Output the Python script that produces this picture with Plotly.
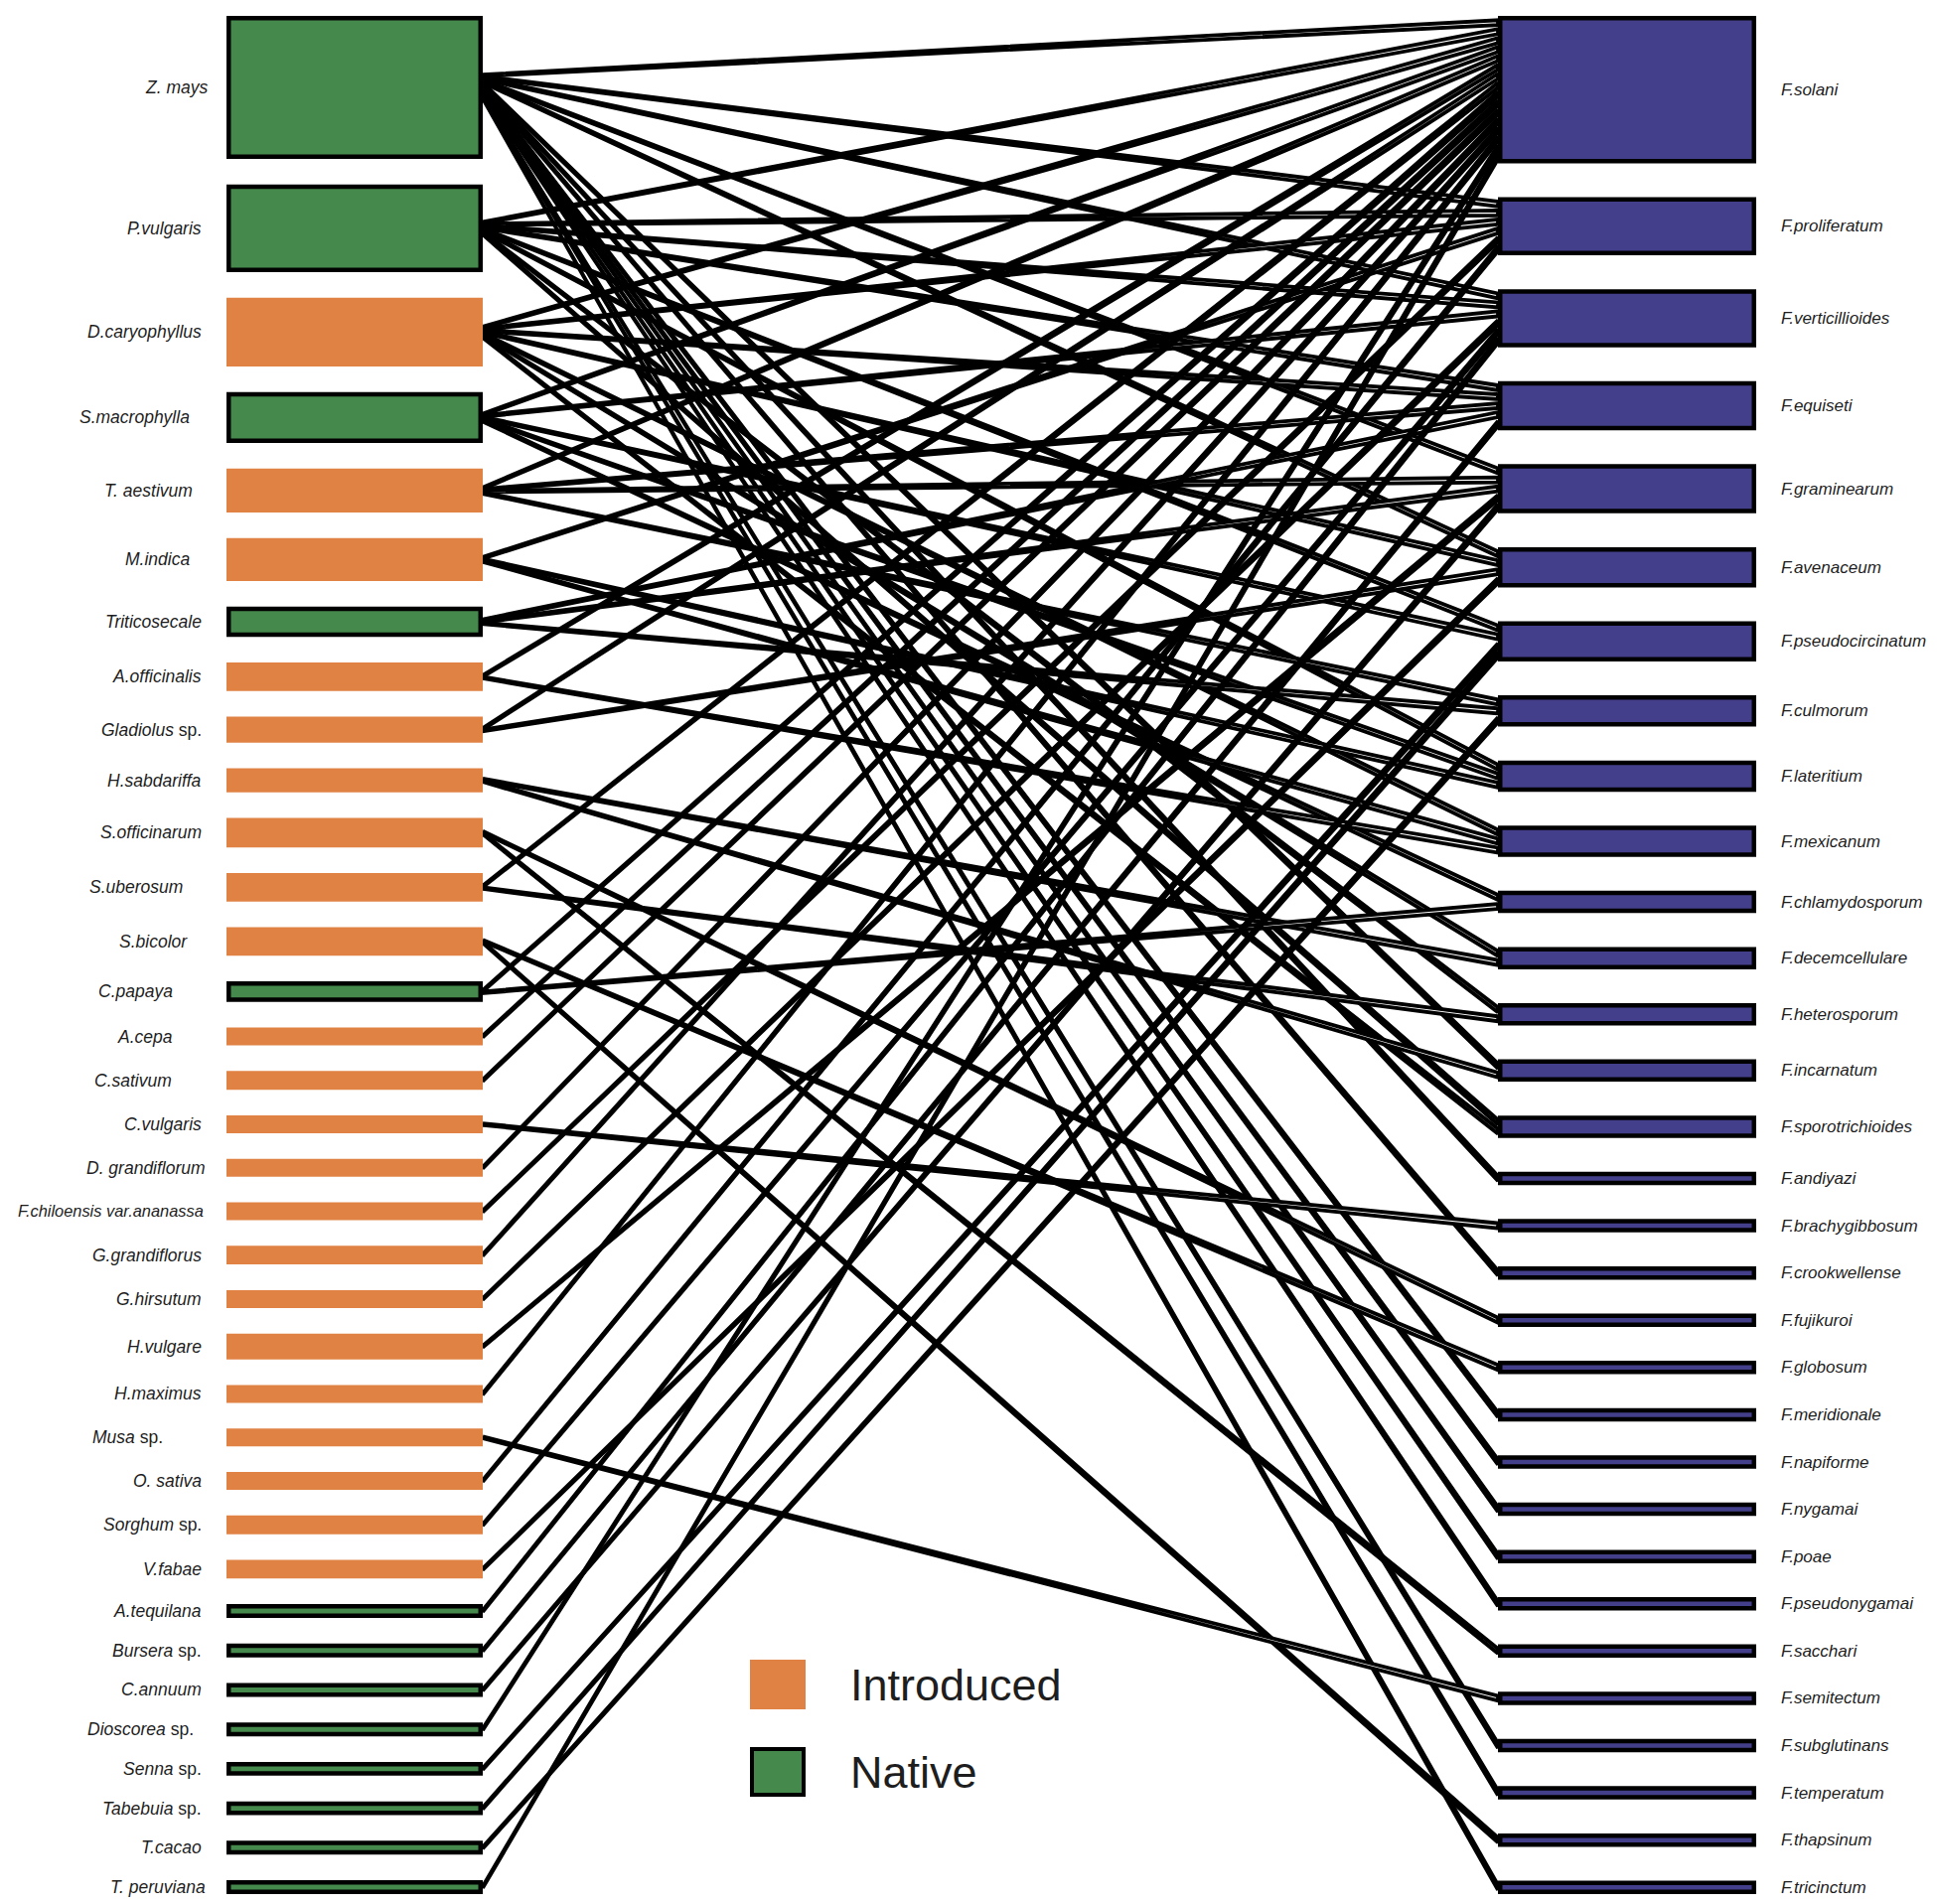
import plotly.graph_objects as go

# ---------------- data ----------------
plants = ["Z. mays", "P.vulgaris", "D.caryophyllus", "S.macrophylla", "T. aestivum",
          "M.indica", "Triticosecale", "A.officinalis", "Gladiolus| sp.", "H.sabdariffa",
          "S.officinarum", "S.uberosum", "S.bicolor", "C.papaya", "A.cepa",
          "C.sativum", "C.vulgaris", "D. grandiflorum", "F.chiloensis var.ananassa", "G.grandiflorus",
          "G.hirsutum", "H.vulgare", "H.maximus", "Musa| sp.", "O. sativa",
          "Sorghum| sp.", "V.fabae", "A.tequilana", "Bursera| sp.", "C.annuum",
          "Dioscorea| sp.", "Senna| sp.", "Tabebuia| sp.", "T.cacao", "T. peruviana"]

plant_status = ["Native", "Native", "Introduced", "Native", "Introduced",
                "Introduced", "Native", "Introduced", "Introduced", "Introduced",
                "Introduced", "Introduced", "Introduced", "Native", "Introduced",
                "Introduced", "Introduced", "Introduced", "Introduced", "Introduced",
                "Introduced", "Introduced", "Introduced", "Introduced", "Introduced",
                "Introduced", "Introduced", "Native", "Native", "Native",
                "Native", "Native", "Native", "Native", "Native"]

# relative box size of each host
plant_size = [16.0, 9.8, 7.7, 5.7, 4.9,
              4.8, 3.4, 3.2, 2.9, 2.7,
              3.3, 3.2, 3.2, 2.3, 2.0,
              2.1, 2.0, 2.0, 2.0, 2.1,
              2.0, 2.9, 2.0, 2.0, 2.0,
              2.1, 2.1, 1.55, 1.55, 1.55,
              1.55, 1.55, 1.55, 1.55, 1.55]

fungi = ["F.solani", "F.proliferatum", "F.verticillioides", "F.equiseti", "F.graminearum",
         "F.avenaceum", "F.pseudocircinatum", "F.culmorum", "F.lateritium", "F.mexicanum",
         "F.chlamydosporum", "F.decemcellulare", "F.heterosporum", "F.incarnatum", "F.sporotrichioides",
         "F.andiyazi", "F.brachygibbosum", "F.crookwellense", "F.fujikuroi", "F.globosum",
         "F.meridionale", "F.napiforme", "F.nygamai", "F.poae", "F.pseudonygamai",
         "F.sacchari", "F.semitectum", "F.subglutinans", "F.temperatum", "F.thapsinum",
         "F.tricinctum"]

# interactions: for each host (same order as plants), indices into fungi
plant_links = [
    [0, 1, 2, 4, 5, 13, 15, 17, 20, 21, 22, 23, 24, 27, 28, 30],  # Z. mays
    [0, 1, 2, 3, 6, 8, 12, 14],                                    # P.vulgaris
    [0, 1, 3, 5, 9, 11, 14],                                       # D.caryophyllus
    [0, 2, 6, 8, 10],                                              # S.macrophylla
    [0, 3, 4, 7],                                                  # T. aestivum
    [1, 8, 9],                                                     # M.indica
    [3, 4, 7],                                                     # Triticosecale
    [0, 9],                                                        # A.officinalis
    [0, 5],                                                        # Gladiolus sp.
    [11, 13],                                                      # H.sabdariffa
    [18, 25],                                                      # S.officinarum
    [0, 12],                                                       # S.uberosum
    [19, 29],                                                      # S.bicolor
    [0, 10],                                                       # C.papaya
    [0], [0], [16], [0], [1], [0], [2], [4], [0], [26], [1], [2], [5],
    [2], [3], [4], [0], [6], [6], [7], [0],
]

legend_items = ["Introduced", "Native"]

# ---------------- styling / layout constants ----------------
W, H = 1950, 1917
PAGE_MARGIN = 8          # default body margin of the html page
TOP, BOTTOM = 16, 1907
UNIT = 9.0
LX0, LX1 = 228, 486
RX0, RX1 = 1508, 1768
BORDER = 4.5
LEFT_LINK_W = 1.6
RIGHT_LINK_W = 5.0
LINK_LINE = 3.8
COL = {"Introduced": "#E08244", "Native": "#46894C"}
FUNGUS_COL = "#443F8A"
FONT = "Liberation Sans, Arial, sans-serif"
LEFT_LABEL_X = 205
LEFT_FONT = 17.5
LABEL_X_TWEAK = {"Z. mays": 211, "S.macrophylla": 193, "T. aestivum": 196, "M.indica": 193,
                 "S.uberosum": 186, "S.bicolor": 191, "C.papaya": 176, "A.cepa": 176,
                 "C.sativum": 175, "Musa| sp.": 166, "Dioscorea| sp.": 197,
                 "D. grandiflorum": 209, "T. peruviana": 209, "F.chiloensis var.ananassa": 207}
LABEL_SIZE_TWEAK = {"F.chiloensis var.ananassa": 16.4}
RIGHT_LABEL_X = 1791

fungus_degree = [0] * len(fungi)
for fl in plant_links:
    for f in fl:
        fungus_degree[f] += 1


def stack(heights):
    gap = (BOTTOM - TOP - sum(heights)) / (len(heights) - 1)
    tops, y = [], TOP
    for h in heights:
        tops.append(y)
        y += h + gap
    return tops


left_h = [UNIT * s for s in plant_size]
right_h = [UNIT * (d + 0.5) for d in fungus_degree]
left_top = stack(left_h)
right_top = stack(right_h)

fig = go.Figure()

# ---------------- links ----------------
slot_used = [0] * len(fungi)
for p, fl in enumerate(plant_links):
    fl = sorted(fl)
    c = left_top[p] + left_h[p] / 2
    start = c - len(fl) * LEFT_LINK_W / 2
    for k, f in enumerate(fl):
        l0 = start + k * LEFT_LINK_W
        l1 = l0 + LEFT_LINK_W
        inner_top = right_top[f] + BORDER / 2
        rc = inner_top + (slot_used[f] + 0.5) * UNIT
        slot_used[f] += 1
        r0, r1 = rc - RIGHT_LINK_W / 2, rc + RIGHT_LINK_W / 2
        fig.add_trace(go.Scatter(
            x=[LX1, RX0, RX0, LX1, LX1], y=[l0, r0, r1, l1, l0],
            mode="lines", fill="toself", fillcolor="white",
            line=dict(color="black", width=LINK_LINE), hoverinfo="skip", showlegend=False))

shapes = []
annotations = []


def fmt(label):
    if "|" in label:
        a, b = label.split("|")
        return "<i>%s</i>%s" % (a, b)
    return "<i>%s</i>" % label


# ---------------- host boxes ----------------
for p, name in enumerate(plants):
    y0, y1 = left_top[p], left_top[p] + left_h[p]
    st = plant_status[p]
    if st == "Native":
        shapes.append(dict(type="rect", xref="x", yref="y", x0=LX0 + 2.25, x1=LX1 - 2.25,
                           y0=y0 + 2.25, y1=y1 - 2.25, fillcolor=COL[st],
                           line=dict(color="black", width=BORDER), layer="above"))
    else:
        shapes.append(dict(type="rect", xref="x", yref="y", x0=LX0, x1=LX1,
                           y0=y0, y1=y1, fillcolor=COL[st], line=dict(width=0), layer="above"))
    annotations.append(dict(x=LABEL_X_TWEAK.get(name, LEFT_LABEL_X), y=(y0 + y1) / 2,
                            xref="x", yref="y", text=fmt(name),
                            showarrow=False, xanchor="right", yanchor="middle",
                            font=dict(family=FONT, size=LABEL_SIZE_TWEAK.get(name, LEFT_FONT),
                                      color="#1e1e1e")))

# ---------------- fungus boxes ----------------
for f, name in enumerate(fungi):
    y0, y1 = right_top[f], right_top[f] + right_h[f]
    shapes.append(dict(type="rect", xref="x", yref="y", x0=RX0 + 2.25, x1=RX1 - 2.25,
                       y0=y0 + 2.25, y1=y1 - 2.25, fillcolor=FUNGUS_COL,
                       line=dict(color="black", width=BORDER), layer="above"))
    annotations.append(dict(x=RIGHT_LABEL_X, y=(y0 + y1) / 2, xref="x", yref="y", text=fmt(name),
                            showarrow=False, xanchor="left", yanchor="middle",
                            font=dict(family=FONT, size=17, color="#1e1e1e")))

# ---------------- legend ----------------
legend_y = [1696, 1784]
for lab, ly in zip(legend_items, legend_y):
    if lab == "Native":
        shapes.append(dict(type="rect", xref="x", yref="y", x0=757, x1=809, y0=ly - 23, y1=ly + 23,
                           fillcolor=COL[lab], line=dict(color="black", width=4), layer="above"))
    else:
        shapes.append(dict(type="rect", xref="x", yref="y", x0=755, x1=811, y0=ly - 25, y1=ly + 25,
                           fillcolor=COL[lab], line=dict(width=0), layer="above"))
    annotations.append(dict(x=854, y=ly, xref="x", yref="y", text=lab, showarrow=False,
                            xanchor="left", yanchor="middle",
                            font=dict(family=FONT, size=45, color="#1e1e1e")))

fig.update_layout(
    width=W - PAGE_MARGIN, height=H - PAGE_MARGIN, margin=dict(l=0, r=0, t=0, b=0),
    paper_bgcolor="white", plot_bgcolor="white",
    xaxis=dict(range=[PAGE_MARGIN, W], visible=False, fixedrange=True),
    yaxis=dict(range=[H, PAGE_MARGIN], visible=False, fixedrange=True),
    shapes=shapes, annotations=annotations, showlegend=False,
)

fig.write_html("out.html")
